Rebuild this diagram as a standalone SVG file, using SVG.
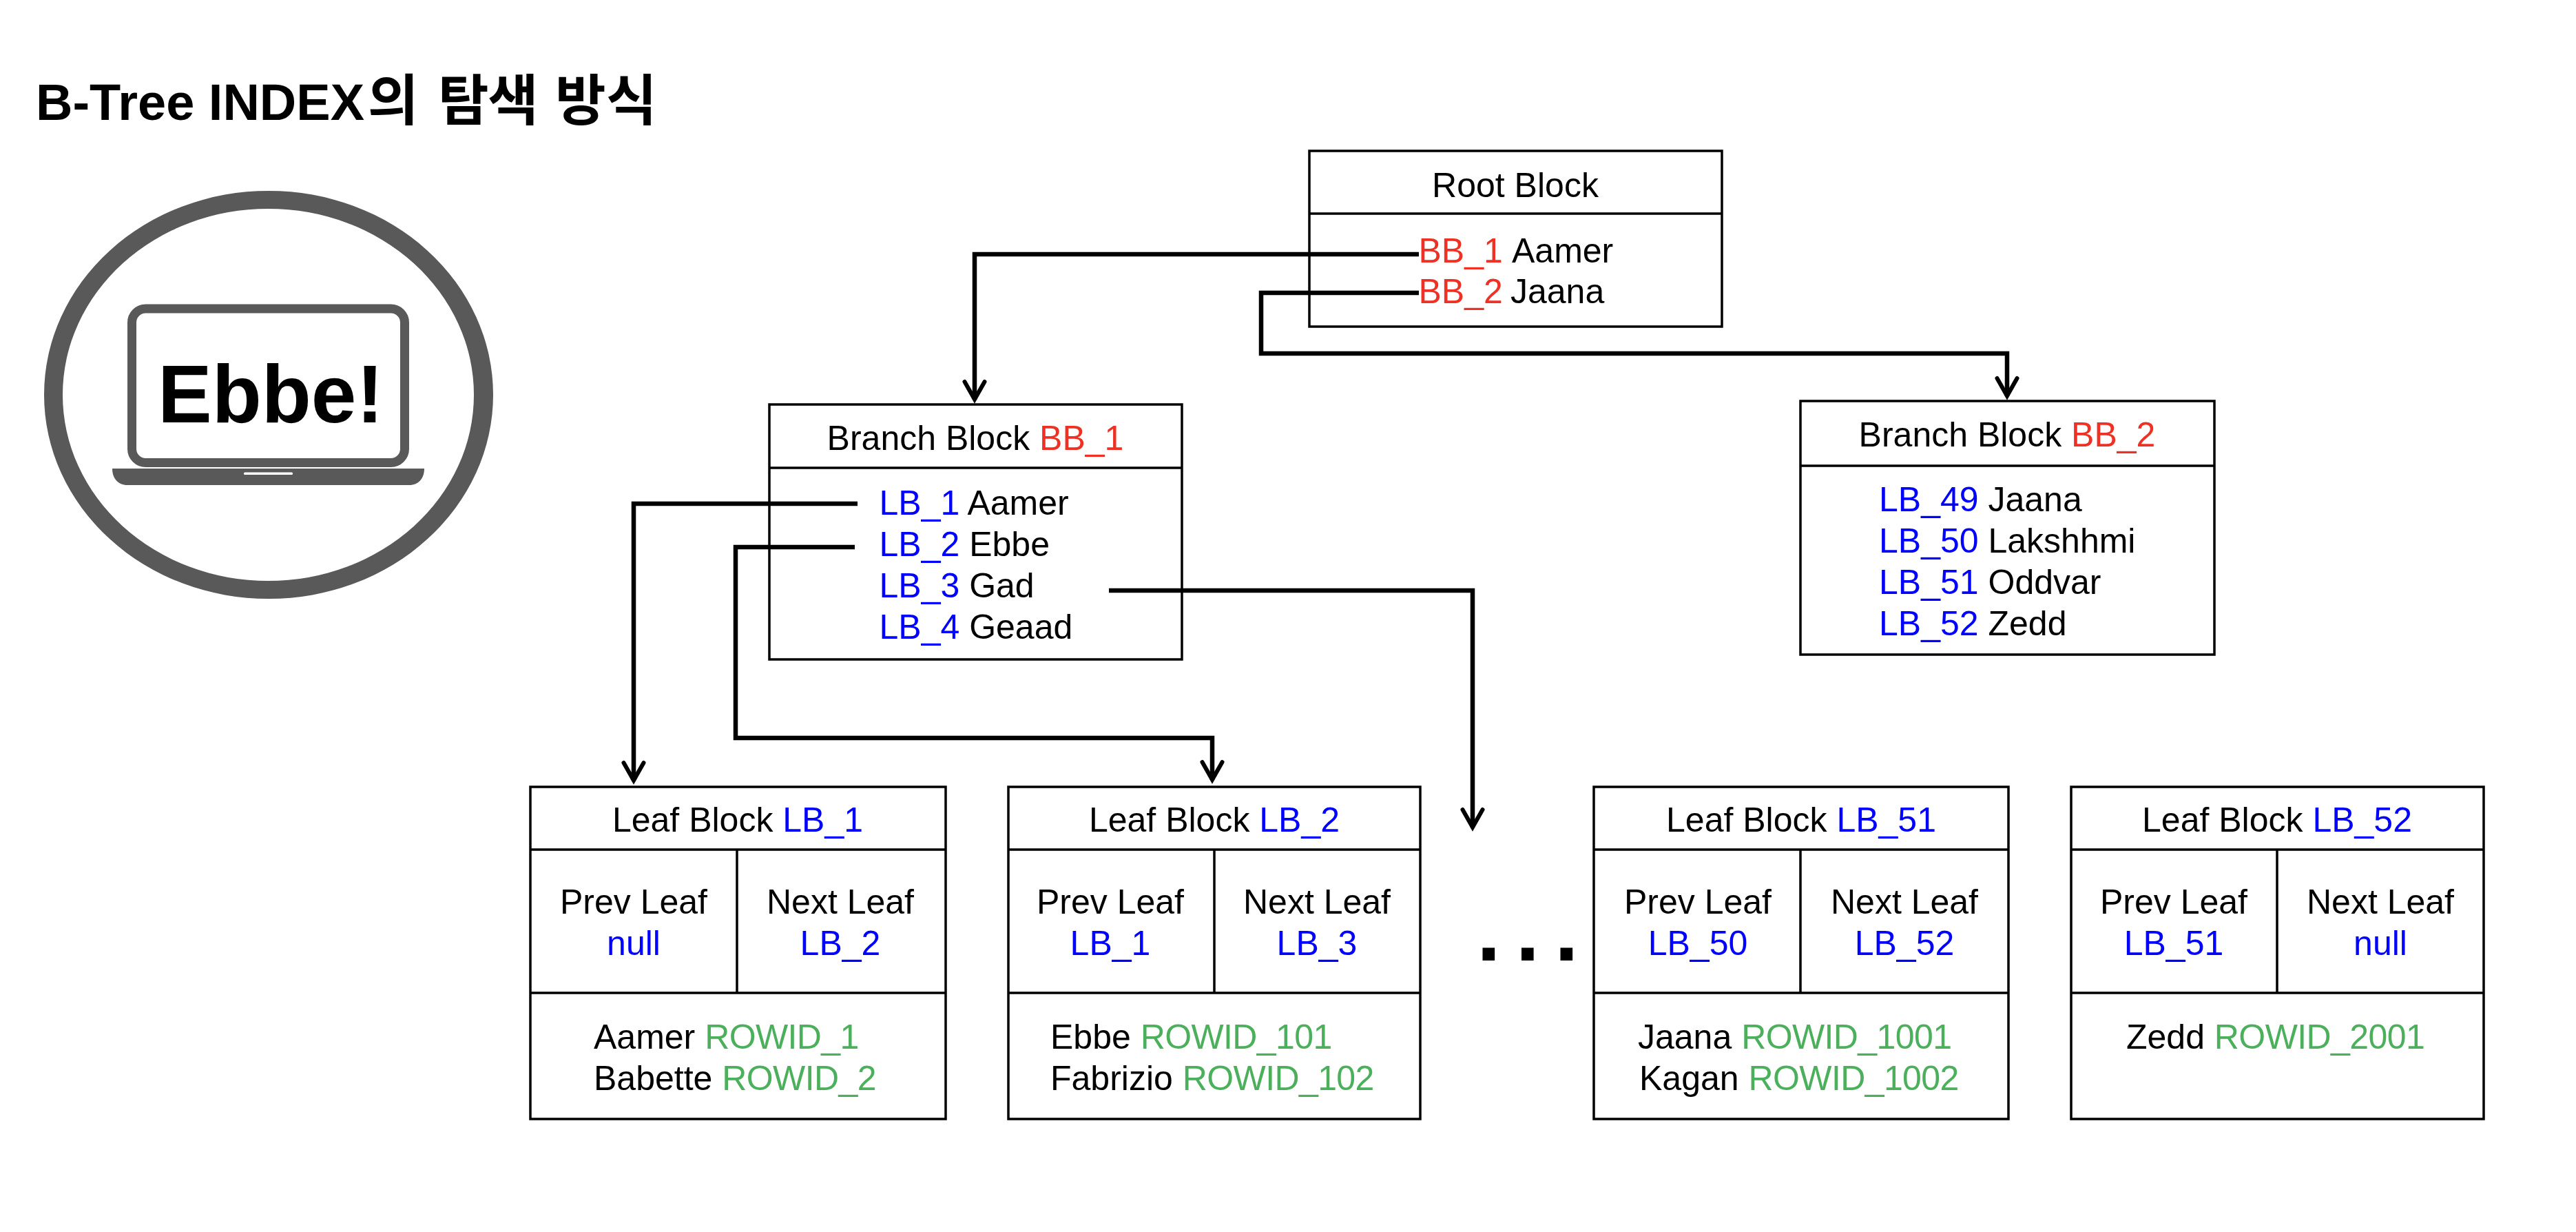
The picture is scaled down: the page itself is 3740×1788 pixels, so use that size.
<svg xmlns="http://www.w3.org/2000/svg" width="3740" height="1788" viewBox="0 0 3740 1788">
<style>
text{font-family:"Liberation Sans","Noto Sans CJK KR",sans-serif;font-size:50px;fill:#000}
.c{text-anchor:middle}
.r{fill:#EE3124}.b{fill:#0000FF}.g{fill:#4CAF5B;letter-spacing:-.6px}
.h{font-size:80px}
.box{fill:#fff;stroke:#000;stroke-width:3.5}
.ln{fill:none;stroke:#000;stroke-width:3.5}
.con{fill:none;stroke:#000;stroke-width:6.5;marker-end:url(#ah)}
.ic{fill:#595959}
</style>
<defs>
<marker id="ah" markerUnits="userSpaceOnUse" markerWidth="48" markerHeight="44" refX="35" refY="22" orient="auto">
<path d="M9 7.500 L34.600 22 L9 36.500" fill="none" stroke="#000" stroke-width="6" stroke-linecap="round" stroke-linejoin="miter"/>
</marker>
</defs>
<rect width="3740" height="1788" fill="#fff"/>
<text id="title" x="52" y="174" style="font-size:74px;font-weight:700">B-Tree INDEX<tspan class="h" x="534">의</tspan> <tspan class="h" x="636">탐</tspan><tspan class="h" x="708">색</tspan> <tspan class="h" x="806">방</tspan><tspan class="h" x="880">식</tspan></text>
<g id="user">
<path class="ic" fill-rule="evenodd" d="M64 573A326 296 0 1 1 716 573A326 296 0 1 1 64 573ZM91 573A298.500 270 0 1 0 688 573A298.500 270 0 1 0 91 573Z"/>
<rect x="191.500" y="448" width="396" height="223.500" rx="20" fill="#fff" stroke="#595959" stroke-width="13"/>
<path class="ic" d="M163 680H616C616 694 608 704 594 704H185C171 704 163 694 163 680Z"/>
<rect x="354" y="685.500" width="71" height="3.500" rx="1.500" fill="#fff"/>
<text x="229" y="613" style="font-size:118px;font-weight:700">Ebbe!</text>
</g>
<g id="root">
<rect class="box" x="1901" y="219" width="599" height="255"/><path class="ln" d="M1901 310H2500"/>
<text class="c" x="2200" y="286">Root Block</text>
<text x="2059.500" y="381"><tspan class="r">BB_1</tspan><tspan x="2195">Aamer</tspan></text>
<text x="2059.500" y="440"><tspan class="r">BB_2</tspan><tspan x="2193">Jaana</tspan></text>
</g>
<g id="branch1">
<rect class="box" x="1117" y="587" width="599" height="370"/><path class="ln" d="M1117 679H1716"/>
<text class="c" x="1416" y="653">Branch Block <tspan class="r">BB_1</tspan></text>
<text x="1276.500" y="747"><tspan class="b">LB_1</tspan> Aamer</text>
<text x="1276.500" y="807"><tspan class="b">LB_2</tspan> Ebbe</text>
<text x="1276.500" y="867"><tspan class="b">LB_3</tspan> Gad</text>
<text x="1276.500" y="927"><tspan class="b">LB_4</tspan> Geaad</text>
</g>
<g id="branch2">
<rect class="box" x="2614" y="582" width="601" height="368"/><path class="ln" d="M2614 676H3215"/>
<text class="c" x="2914" y="648">Branch Block <tspan class="r">BB_2</tspan></text>
<text x="2728" y="742"><tspan class="b">LB_49</tspan> Jaana</text>
<text x="2728" y="802"><tspan class="b">LB_50</tspan> Lakshhmi</text>
<text x="2728" y="862"><tspan class="b">LB_51</tspan> Oddvar</text>
<text x="2728" y="922"><tspan class="b">LB_52</tspan> Zedd</text>
</g>
<g id="leaf1">
<rect class="box" x="770" y="1142" width="603" height="482"/><path class="ln" d="M770 1233H1373M770 1441H1373M1070 1233V1441"/>
<text class="c" x="1071" y="1207">Leaf Block <tspan class="b">LB_1</tspan></text>
<text class="c" x="920" y="1326">Prev Leaf</text><text class="c b" x="920" y="1386">null</text>
<text class="c" x="1220" y="1326">Next Leaf</text><text class="c b" x="1220" y="1386">LB_2</text>
<text x="862" y="1522">Aamer <tspan class="g">ROWID_1</tspan></text>
<text x="862" y="1582">Babette <tspan class="g">ROWID_2</tspan></text>
</g>
<g id="leaf2">
<rect class="box" x="1464" y="1142" width="598" height="482"/><path class="ln" d="M1464 1233H2062M1464 1441H2062M1763 1233V1441"/>
<text class="c" x="1763" y="1207">Leaf Block <tspan class="b">LB_2</tspan></text>
<text class="c" x="1612" y="1326">Prev Leaf</text><text class="c b" x="1612" y="1386">LB_1</text>
<text class="c" x="1912" y="1326">Next Leaf</text><text class="c b" x="1912" y="1386">LB_3</text>
<text x="1525" y="1522">Ebbe <tspan class="g">ROWID_101</tspan></text>
<text x="1525" y="1582">Fabrizio <tspan class="g">ROWID_102</tspan></text>
</g>
<text id="dots" x="2144" y="1394" style="font-size:125px;font-weight:700;word-spacing:-13px">. . .</text>
<g id="leaf51">
<rect class="box" x="2314" y="1142" width="602" height="482"/><path class="ln" d="M2314 1233H2916M2314 1441H2916M2614 1233V1441"/>
<text class="c" x="2615" y="1207">Leaf Block <tspan class="b">LB_51</tspan></text>
<text class="c" x="2465" y="1326">Prev Leaf</text><text class="c b" x="2465" y="1386">LB_50</text>
<text class="c" x="2765" y="1326">Next Leaf</text><text class="c b" x="2765" y="1386">LB_52</text>
<text x="2378" y="1522">Jaana <tspan class="g">ROWID_1001</tspan></text>
<text x="2380" y="1582">Kagan <tspan class="g">ROWID_1002</tspan></text>
</g>
<g id="leaf52">
<rect class="box" x="3007" y="1142" width="599" height="482"/><path class="ln" d="M3007 1233H3606M3007 1441H3606M3306 1233V1441"/>
<text class="c" x="3306" y="1207">Leaf Block <tspan class="b">LB_52</tspan></text>
<text class="c" x="3156" y="1326">Prev Leaf</text><text class="c b" x="3156" y="1386">LB_51</text>
<text class="c" x="3456" y="1326">Next Leaf</text><text class="c b" x="3456" y="1386">null</text>
<text x="3087" y="1522">Zedd <tspan class="g">ROWID_2001</tspan></text>
</g>
<g id="connectors">
<path class="con" d="M2060 369H1415V580"/>
<path class="con" d="M2060 425H1831V513H2914V575"/>
<path class="con" d="M1245 731H920V1133"/>
<path class="con" d="M1241 794H1068V1071H1760V1132"/>
<path class="con" d="M1610 857H2138V1201"/>
</g>
</svg>
